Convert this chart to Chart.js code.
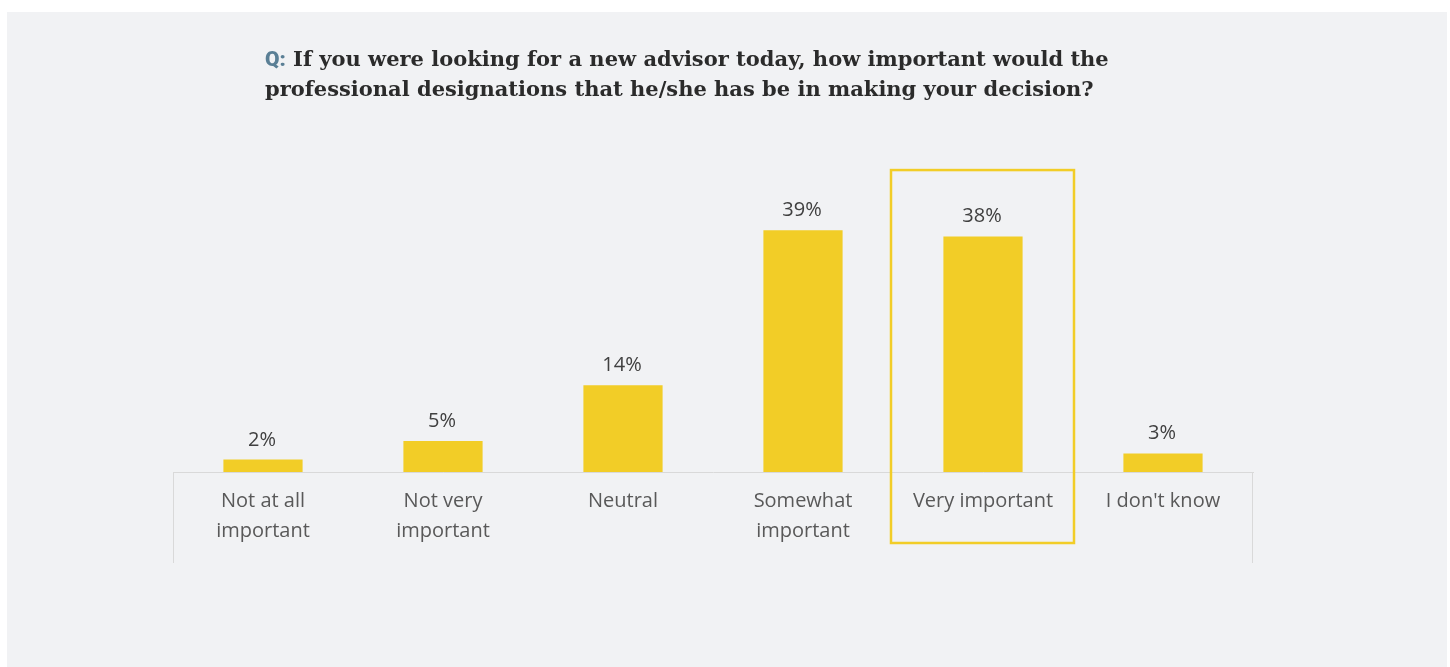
<!DOCTYPE html>
<html>
<head>
<meta charset="utf-8">
<script src="https://cdn.jsdelivr.net/npm/chart.js@4"></script>
<style>
    body { margin: 0; background: #ffffff; }
    #panel { position: absolute; left: 7px; top: 12px; width: 1440px; height: 655px; background: #f1f2f4; }
    #title { position: absolute; left: 265px; top: 44px; font-family: "DejaVu Serif", serif; font-weight: bold; font-size: 21px; line-height: 30px; color: #2b2b2b; }
    #title .q { font-family: "Roboto", sans-serif; font-weight: 900; color: #5a7f95; }
    #myChart { position: absolute; left: 0; top: 0; }
</style>
</head>
<body>
<div id="panel"></div>
<canvas id="myChart" width="1450" height="667"></canvas>
<div id="title"><span class="q">Q:</span> If you were looking for a new advisor today, how important would the<br>professional designations that he/she has be in making your decision?</div>
<script>
let categories = [
    ['Not at all', 'important'],
    ['Not very', 'important'],
    'Neutral',
    ['Somewhat', 'important'],
    'Very important',
    "I don't know"
];
let values = [2, 5, 14, 39, 38, 3];
let highlighted = 4;

let barColor = '#f2cd27';

// value labels, side lines under the axis and the box round the highlighted column
let extras = {
    id: 'extras',
    afterDatasetsDraw(chart) {
        let ctx = chart.ctx;
        let x = chart.scales.x;
        let y = chart.scales.y;
        let area = chart.chartArea;
        let meta = chart.getDatasetMeta(0);

        ctx.save();
        ctx.font = '20px "Open Sans"';
        ctx.fillStyle = '#404040';
        ctx.textAlign = 'center';
        ctx.textBaseline = 'alphabetic';
        meta.data.forEach(function (bar, i) {
            ctx.fillText(values[i] + '%', bar.x - 1, bar.y - 14);
        });

        ctx.strokeStyle = '#d9d9d9';
        ctx.lineWidth = 1;
        ctx.beginPath();
        ctx.moveTo(area.left + 0.5, x.top);
        ctx.lineTo(area.left + 0.5, x.bottom);
        ctx.moveTo(area.right - 0.5, x.top);
        ctx.lineTo(area.right - 0.5, x.bottom);
        ctx.stroke();

        let step = (area.right - area.left) / categories.length;
        let cx = x.getPixelForValue(highlighted);
        let top = y.getPixelForValue(48.7);
        ctx.strokeStyle = barColor;
        ctx.lineWidth = 2.5;
        ctx.strokeRect(cx - step / 2 - 2, top, step + 3, x.bottom - 20 - top);
        ctx.restore();
    }
};

new Chart(document.getElementById('myChart').getContext('2d'), {
    type: 'bar',
    data: {
        labels: categories,
        datasets: [{
            data: values,
            backgroundColor: barColor,
            barPercentage: 0.88,
            categoryPercentage: 0.5
        }]
    },
    options: {
        responsive: false,
        animation: false,
        layout: { padding: { left: 173, right: 197, top: 162, bottom: 104 } },
        plugins: { legend: { display: false }, tooltip: { enabled: false } },
        scales: {
            x: {
                grid: { display: false },
                border: { display: true, color: '#d9d9d9', width: 1 },
                ticks: {
                    color: '#595959',
                    font: { family: 'Open Sans', size: 20, lineHeight: 1.5 },
                    padding: 6,
                    maxRotation: 0,
                    autoSkip: false
                },
                afterFit(scale) { scale.height = 91; }
            },
            y: {
                display: false,
                min: 0,
                max: 50
            }
        }
    },
    plugins: [extras]
});
</script>
</body>
</html>
